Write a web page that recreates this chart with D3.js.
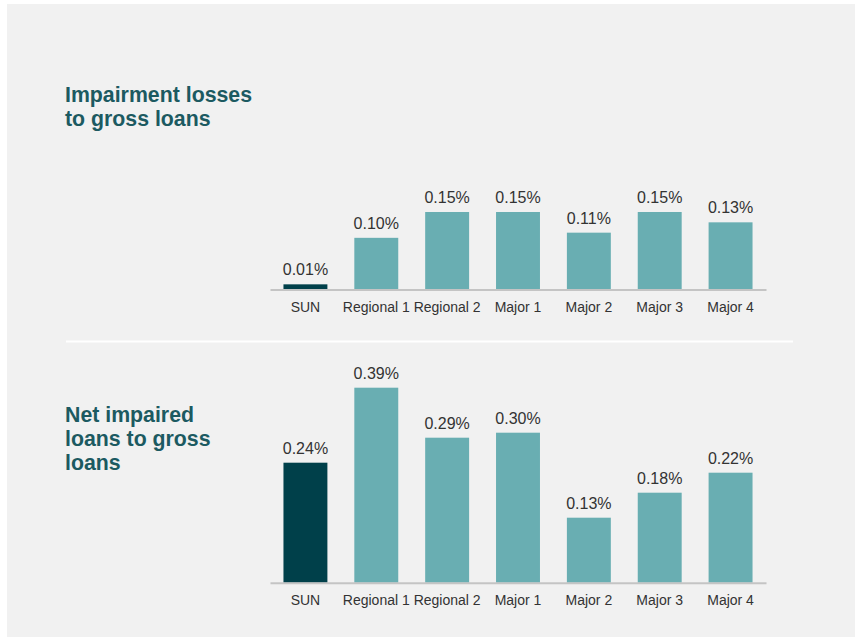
<!DOCTYPE html>
<html><head><meta charset="utf-8">
<script src="https://cdn.jsdelivr.net/npm/d3@7"></script>
<style>html,body{margin:0;padding:0;background:#fff;}svg{display:block;}</style>
</head><body>
<script>
const categories = ["SUN","Regional 1","Regional 2","Major 1","Major 2","Major 3","Major 4"];
const impairmentLosses = [0.01,0.10,0.15,0.15,0.11,0.15,0.13];
const netImpaired = [0.24,0.39,0.29,0.30,0.13,0.18,0.22];
const titleTop = ["Impairment losses","to gross loans"];
const titleBottom = ["Net impaired","loans to gross","loans"];

const W = 855, H = 637;
const svg = d3.select("body").append("svg").attr("width",W).attr("height",H);
svg.append("rect").attr("x",7).attr("y",4).attr("width",W-7).attr("height",H-4).attr("fill","#f1f1f1");
svg.append("line").attr("x1",66).attr("x2",793).attr("y1",341.5).attr("y2",341.5)
  .attr("stroke","#ffffff").attr("stroke-width",2);

const FONT = "'Liberation Sans', Arial, sans-serif";
const x = d3.scaleBand().domain(categories).range([270,766]).paddingInner(0.38).paddingOuter(0.19);

function panel(values, baseY, pxPerUnit, title, titleY0) {
  const y = d3.scaleLinear().domain([0, 1]).range([baseY, baseY - pxPerUnit]);
  const g = svg.append("g");
  g.selectAll("rect.bar").data(values).join("rect")
    .attr("x",(d,i)=>x(categories[i]))
    .attr("width",x.bandwidth())
    .attr("y",d=>y(d))
    .attr("height",d=>y(0)-y(d))
    .attr("fill",(d,i)=>i===0?"#00404a":"#69aeb2");
  g.selectAll("text.val").data(values).join("text")
    .attr("x",(d,i)=>x(categories[i])+x.bandwidth()/2)
    .attr("y",d=>y(d)-9)
    .attr("text-anchor","middle")
    .attr("font-family",FONT).attr("font-size","16px").attr("fill","#333333")
    .text(d=>d.toFixed(2)+"%");
  const axis = d3.axisBottom(x).tickSize(0).tickPadding(0);
  const ag = g.append("g").attr("transform",`translate(0,${baseY})`).call(axis);
  ag.select(".domain").attr("stroke","#c4c4c4").attr("stroke-width",2);
  ag.selectAll("text").attr("font-family",FONT).attr("font-size","14px").attr("fill","#333333")
    .attr("dy",null).attr("y",22);
  const t = svg.append("text").attr("font-family",FONT).attr("font-weight","bold")
    .attr("font-size","21.3px").attr("fill","#1c5a61");
  title.forEach((s,i)=>t.append("tspan").attr("x",65).attr("y",titleY0+i*24).text(s));
}
panel(impairmentLosses, 289.5, 516.7, titleTop, 101.5);
panel(netImpaired, 582.7, 500, titleBottom, 421.5);
</script>
</body></html>
